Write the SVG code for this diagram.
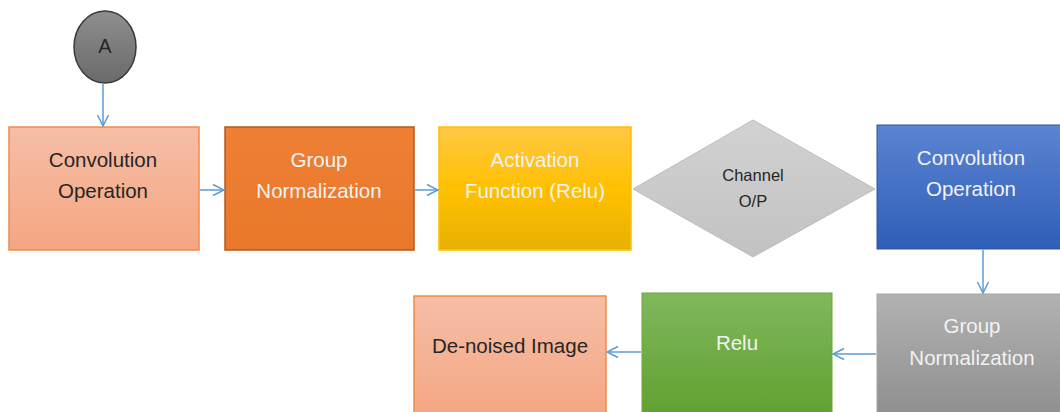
<svg xmlns="http://www.w3.org/2000/svg" width="1060" height="412" viewBox="0 0 1060 412">
<defs>
<linearGradient id="gSalmon" x1="0" y1="0" x2="0" y2="1"><stop offset="0" stop-color="#F6BEA6"/><stop offset="1" stop-color="#F4A682"/></linearGradient>
<linearGradient id="gOrange" x1="0" y1="0" x2="0" y2="1"><stop offset="0" stop-color="#EE7F34"/><stop offset="1" stop-color="#E9782A"/></linearGradient>
<linearGradient id="gGold" x1="0" y1="0" x2="0" y2="1"><stop offset="0" stop-color="#FFC845"/><stop offset="0.5" stop-color="#FFC000"/><stop offset="1" stop-color="#E8B100"/></linearGradient>
<linearGradient id="gGrayD" x1="0" y1="0" x2="0" y2="1"><stop offset="0" stop-color="#D2D2D2"/><stop offset="1" stop-color="#C2C2C2"/></linearGradient>
<linearGradient id="gBlue" x1="0" y1="0" x2="0" y2="1"><stop offset="0" stop-color="#5B84D2"/><stop offset="1" stop-color="#2F5EB8"/></linearGradient>
<linearGradient id="gGray" x1="0" y1="0" x2="0" y2="1"><stop offset="0" stop-color="#B2B2B2"/><stop offset="1" stop-color="#8E8E8E"/></linearGradient>
<linearGradient id="gGreen" x1="0" y1="0" x2="0" y2="1"><stop offset="0" stop-color="#80B85C"/><stop offset="1" stop-color="#60A030"/></linearGradient>
<linearGradient id="gCircle" x1="0" y1="0" x2="0" y2="1"><stop offset="0" stop-color="#8E8E8E"/><stop offset="1" stop-color="#6A6A6A"/></linearGradient>
<marker id="arr" viewBox="0 0 14 14" refX="13" refY="7" markerWidth="14" markerHeight="14" markerUnits="userSpaceOnUse" orient="auto">
<path d="M2,1.5 L13,7 L2,12.5" fill="none" stroke="#5B9BD5" stroke-width="1.5"/>
</marker>
<style>
.lbl{font-family:"Liberation Sans",Arial,sans-serif;font-size:20.5px;text-anchor:middle}
.small{font-size:16.5px}
.big{font-size:20px}
.dark{fill:#262626}
.light{fill:#F2F2F2}
.conn line{stroke:#5B9BD5;stroke-width:1.5;marker-end:url(#arr)}
</style>
</defs>

<g id="nodeA">
<ellipse cx="105" cy="47" rx="31" ry="36" fill="url(#gCircle)" stroke="#3A3A3A" stroke-width="1.5"/>
<text x="105" y="53" class="lbl dark big">A</text>
</g>

<g id="conv1">
<rect x="9" y="127" width="190" height="123" fill="url(#gSalmon)" stroke="#F08A4B" stroke-width="1.5"/>
<text x="103" y="167" class="lbl dark">Convolution</text>
<text x="103" y="198" class="lbl dark">Operation</text>
</g>

<g id="gn1">
<rect x="225" y="127" width="189" height="123" fill="url(#gOrange)" stroke="#B45A1E" stroke-width="1.5"/>
<text x="319" y="167" class="lbl light">Group</text>
<text x="319" y="198" class="lbl light">Normalization</text>
</g>

<g id="act">
<rect x="439" y="127" width="192" height="123" fill="url(#gGold)" stroke="#FFC000" stroke-width="1.5"/>
<text x="535" y="167" class="lbl light">Activation</text>
<text x="535" y="198" class="lbl light">Function (Relu)</text>
</g>

<g id="channel">
<polygon points="633,189 753,120 875,189 753,257" fill="url(#gGrayD)" stroke="#BDBDBD" stroke-width="1"/>
<text x="753" y="181" class="lbl dark small">Channel</text>
<text x="753" y="207" class="lbl dark small">O/P</text>
</g>

<g id="conv2">
<rect x="877" y="125" width="190" height="124" fill="url(#gBlue)" stroke="#2F5597" stroke-width="1"/>
<text x="971" y="165" class="lbl light">Convolution</text>
<text x="971" y="196" class="lbl light">Operation</text>
</g>

<g id="gn2">
<rect x="877" y="294" width="190" height="124" fill="url(#gGray)" stroke="#A6A6A6" stroke-width="1"/>
<text x="972" y="333" class="lbl light">Group</text>
<text x="972" y="365" class="lbl light">Normalization</text>
</g>

<g id="relu">
<rect x="642" y="293" width="190" height="125" fill="url(#gGreen)" stroke="#6AA73A" stroke-width="1"/>
<text x="737" y="350" class="lbl light">Relu</text>
</g>

<g id="denoised">
<rect x="414" y="296" width="192" height="122" fill="url(#gSalmon)" stroke="#F08A4B" stroke-width="1.5"/>
<text x="510" y="353" class="lbl dark">De-noised Image</text>
</g>

<g id="connectors" class="conn">
<line x1="103" y1="83" x2="103" y2="126"/>
<line x1="200" y1="190" x2="224" y2="190"/>
<line x1="415" y1="190" x2="438" y2="190"/>
<line x1="983" y1="250" x2="983" y2="293"/>
<line x1="876" y1="354" x2="833" y2="354"/>
<line x1="641" y1="352" x2="607" y2="352"/>
</g>
</svg>
